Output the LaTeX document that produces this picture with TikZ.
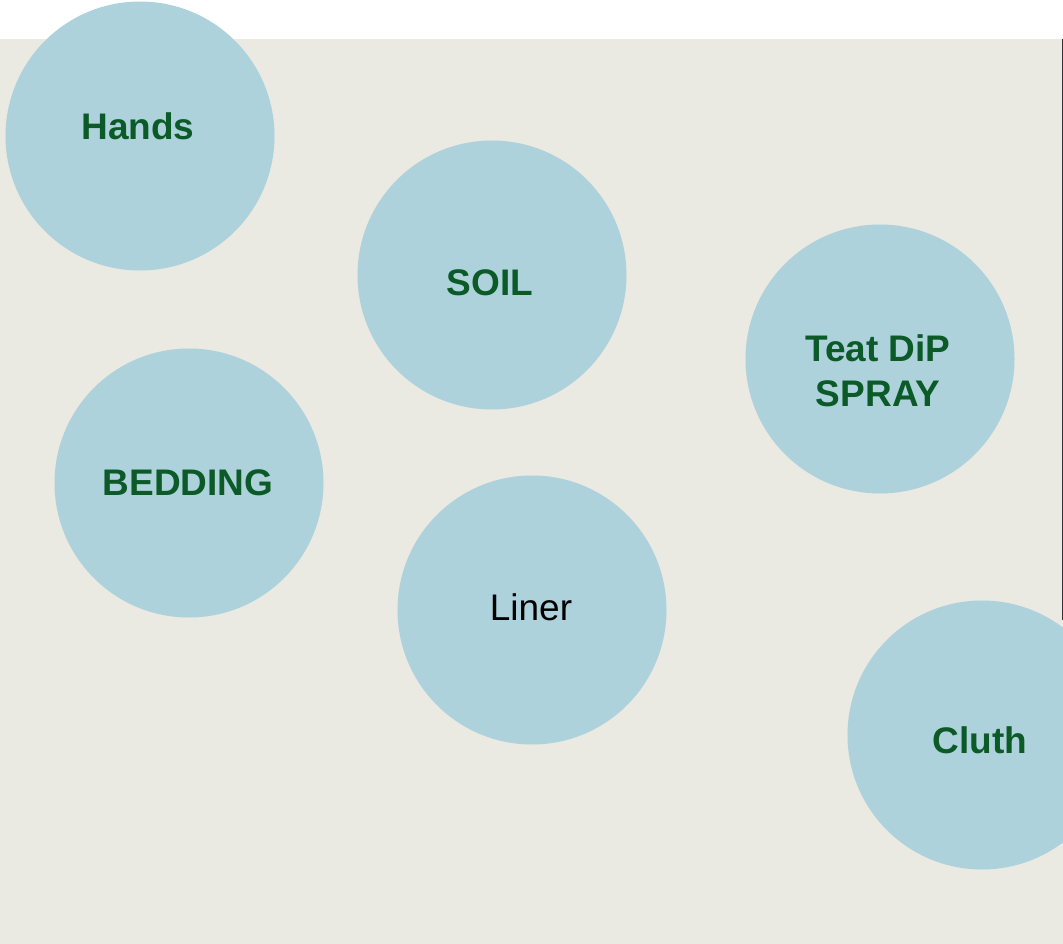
\documentclass[tikz,border=0pt]{standalone}
\usepackage{fontspec}
\setmainfont{Liberation Sans}
\definecolor{bgc}{HTML}{EAE9E2}
\definecolor{circ}{HTML}{AED2DC}
\definecolor{dgreen}{HTML}{0B5A28}
\begin{document}
\begin{tikzpicture}[x=1pt,y=-1pt,
  blob/.style={circle,fill=circ,minimum size=269pt,inner sep=0pt,align=center},
  lbl/.style={font=\fontsize{37}{45}\selectfont\bfseries,text=dgreen,align=center},
  plain/.style={font=\fontsize{37}{45}\selectfont,text=black}]
\useasboundingbox (0,0) rectangle (1063,944);
\clip (0,0) rectangle (1063,944);
\fill[bgc] (0,39) rectangle (1063,944);
\draw[black!80,line width=1pt] (1062.5,39) -- (1062.5,620);
\node[blob] (hands) at (140,136) {};
\node[blob] (soil) at (492,275) {};
\node[blob] (teat) at (880,359) {};
\node[blob] (bedding) at (189,483) {};
\node[blob] (liner) at (532,610) {};
\node[blob] (cluth) at (982,735) {};
\node[lbl] at (138,126) {Hands};
\node[lbl] at (490,283) {SOIL};
\node[lbl] at (878,371) {Teat DiP\\SPRAY};
\node[lbl] at (188,483) {BEDDING};
\node[plain] at (531,607) {Liner};
\node[lbl] at (980,740) {Cluth};
\end{tikzpicture}
\end{document}
